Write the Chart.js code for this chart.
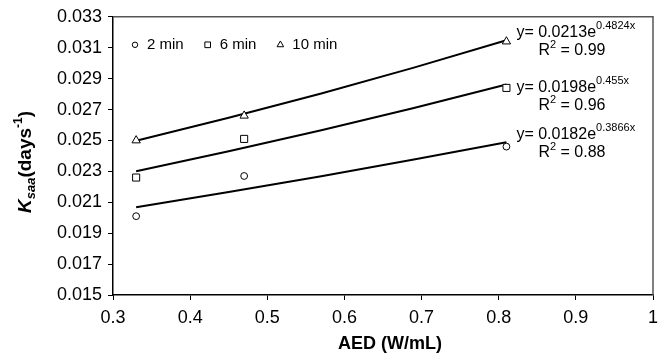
<!DOCTYPE html>
<html>
<head>
<meta charset="utf-8">
<script src="https://cdn.jsdelivr.net/npm/chart.js@4"></script>
<style>
  html, body { margin: 0; padding: 0; background: #fff; }
  #wrap { width: 666px; height: 361px; }
</style>
</head>
<body>
<div id="wrap"><canvas id="myChart" width="666" height="361"></canvas></div>
<script>
// values
const aed = [0.33, 0.47, 0.81];
const k2min = [0.0201, 0.0227, 0.0246];
const k6min = [0.0226, 0.0251, 0.0284];
const k10min = [0.0250, 0.0266, 0.0314];
// trend lines
const fitX = [0.33, 0.45, 0.57, 0.69, 0.81];
const fit2min = [0.02068, 0.02166, 0.02269, 0.02376, 0.02489];
const fit6min = [0.02301, 0.02430, 0.02566, 0.02710, 0.02862];
const fit10min = [0.02498, 0.02647, 0.02804, 0.02971, 0.03148];
const seriesNames = ["2 min", "6 min", "10 min"];
const fitEquations = [
  { a: "y= 0.0182e", b: "0.3866x", r: "0.88" },
  { a: "y= 0.0198e", b: "0.455x", r: "0.96" },
  { a: "y= 0.0213e", b: "0.4824x", r: "0.99" },
];

const FONT = "'Liberation Sans', Arial, sans-serif";
Chart.defaults.font.family = FONT;
Chart.defaults.color = "#000";

const pts = (xs, ys) => xs.map((x, i) => ({ x: x, y: ys[i] }));

const fitSet = (ys) => ({
  data: pts(fitX, ys),
  showLine: true,
  borderColor: "#000",
  borderWidth: 2,
  pointRadius: 0,
  order: 2,
});
const markSet = (label, ys, style, r) => ({
  label: label,
  data: pts(aed, ys),
  showLine: false,
  pointStyle: style,
  pointRadius: r,
  backgroundColor: "#fff",
  borderColor: "#000",
  borderWidth: 1,
  order: 1,
});

const markers = [
  { style: "circle", r: 3.4 },
  { style: "rect", r: 5 },
  { style: "triangle", r: 4.8 },
];

// draws a run of text pieces with own fonts / offsets
const drawRich = (ctx, parts, x, y) => {
  let cx = x;
  parts.forEach((p) => {
    ctx.font = p.font;
    ctx.fillText(p.t, cx, y + (p.dy || 0));
    cx += ctx.measureText(p.t).width;
  });
  return cx - x;
};
const richWidth = (ctx, parts) => {
  let w = 0;
  parts.forEach((p) => {
    ctx.font = p.font;
    w += ctx.measureText(p.t).width;
  });
  return w;
};

const extras = {
  id: "extras",
  afterDraw(chart) {
    const ctx = chart.ctx;
    const a = chart.chartArea;
    const xs = chart.scales.x;
    ctx.save();

    // top and right frame
    ctx.strokeStyle = "#555";
    ctx.lineWidth = 1.5;
    ctx.beginPath();
    ctx.moveTo(a.left, a.top);
    ctx.lineTo(a.right, a.top);
    ctx.lineTo(a.right, a.bottom);
    ctx.stroke();

    ctx.fillStyle = "#000";
    ctx.textBaseline = "middle";
    ctx.textAlign = "left";

    // legend
    let lx = a.left + 22;
    const ly = a.top + 28;
    seriesNames.forEach((name, i) => {
      ctx.strokeStyle = "#000";
      ctx.fillStyle = "#fff";
      ctx.lineWidth = 1;
      Chart.helpers.drawPoint(ctx, {
        pointStyle: markers[i].style,
        radius: markers[i].r * 0.8,
        rotation: 0,
        borderWidth: 1,
      }, lx, ly);
      ctx.fillStyle = "#000";
      ctx.font = "15px " + FONT;
      ctx.fillText(name, lx + 12, ly);
      lx += 12 + ctx.measureText(name).width + 24;
    });

    // equations next to the last points
    const eqY = [135, 88, 33];
    fitEquations.forEach((eq, i) => {
      const ex = xs.getPixelForValue(aed[2]) + 10;
      const ey = eqY[i];
      drawRich(ctx, [
        { t: eq.a, font: "16px " + FONT },
        { t: eq.b, font: "11px " + FONT, dy: -7 },
      ], ex, ey);
      drawRich(ctx, [
        { t: "R", font: "16px " + FONT },
        { t: "2", font: "11px " + FONT, dy: -6 },
        { t: " = " + eq.r, font: "16px " + FONT },
      ], ex + 22, ey + 18);
    });

    // y axis title
    const yParts = [
      { t: "K", font: "italic bold 19px " + FONT },
      { t: "saa", font: "italic bold 13px " + FONT, dy: 5 },
      { t: "(days", font: "bold 19px " + FONT },
      { t: "-1", font: "bold 12px " + FONT, dy: -7 },
      { t: ")", font: "bold 19px " + FONT },
    ];
    ctx.save();
    ctx.translate(26, 162);
    ctx.rotate(-Math.PI / 2);
    drawRich(ctx, yParts, -richWidth(ctx, yParts) / 2, 0);
    ctx.restore();

    // x axis title
    ctx.textAlign = "center";
    ctx.font = "bold 18px " + FONT;
    ctx.fillText("AED (W/mL)", 390, 344);

    ctx.restore();
  },
};

new Chart(document.getElementById("myChart"), {
  type: "scatter",
  data: {
    datasets: [
      fitSet(fit2min),
      fitSet(fit6min),
      fitSet(fit10min),
      markSet(seriesNames[0], k2min, markers[0].style, markers[0].r),
      markSet(seriesNames[1], k6min, markers[1].style, markers[1].r),
      markSet(seriesNames[2], k10min, markers[2].style, markers[2].r),
    ],
  },
  options: {
    responsive: false,
    animation: false,
    devicePixelRatio: 1,
    layout: { padding: { top: 15, right: 13, left: 0, bottom: 0 } },
    plugins: { legend: { display: false }, tooltip: { enabled: false } },
    scales: {
      x: {
        type: "linear",
        min: 0.3,
        max: 1,
        afterFit: (s) => { s.height = 66; },
        border: { color: "#000", width: 1.5 },
        grid: { drawOnChartArea: false, drawTicks: true, tickLength: 5, color: "#000" },
        ticks: {
          stepSize: 0.1,
          padding: 7,
          maxRotation: 0,
          font: { size: 18 },
          callback: (v) => (Math.abs(v - 1) < 1e-9 ? "1" : v.toFixed(1)),
        },
      },
      y: {
        min: 0.015,
        max: 0.033,
        afterFit: (s) => { s.width = 113; },
        border: { color: "#000", width: 1.5 },
        grid: { drawOnChartArea: false, drawTicks: true, tickLength: 5, color: "#000" },
        ticks: {
          stepSize: 0.002,
          padding: 6,
          font: { size: 18 },
          callback: (v) => v.toFixed(3),
        },
      },
    },
  },
  plugins: [extras],
});
</script>
</body>
</html>
